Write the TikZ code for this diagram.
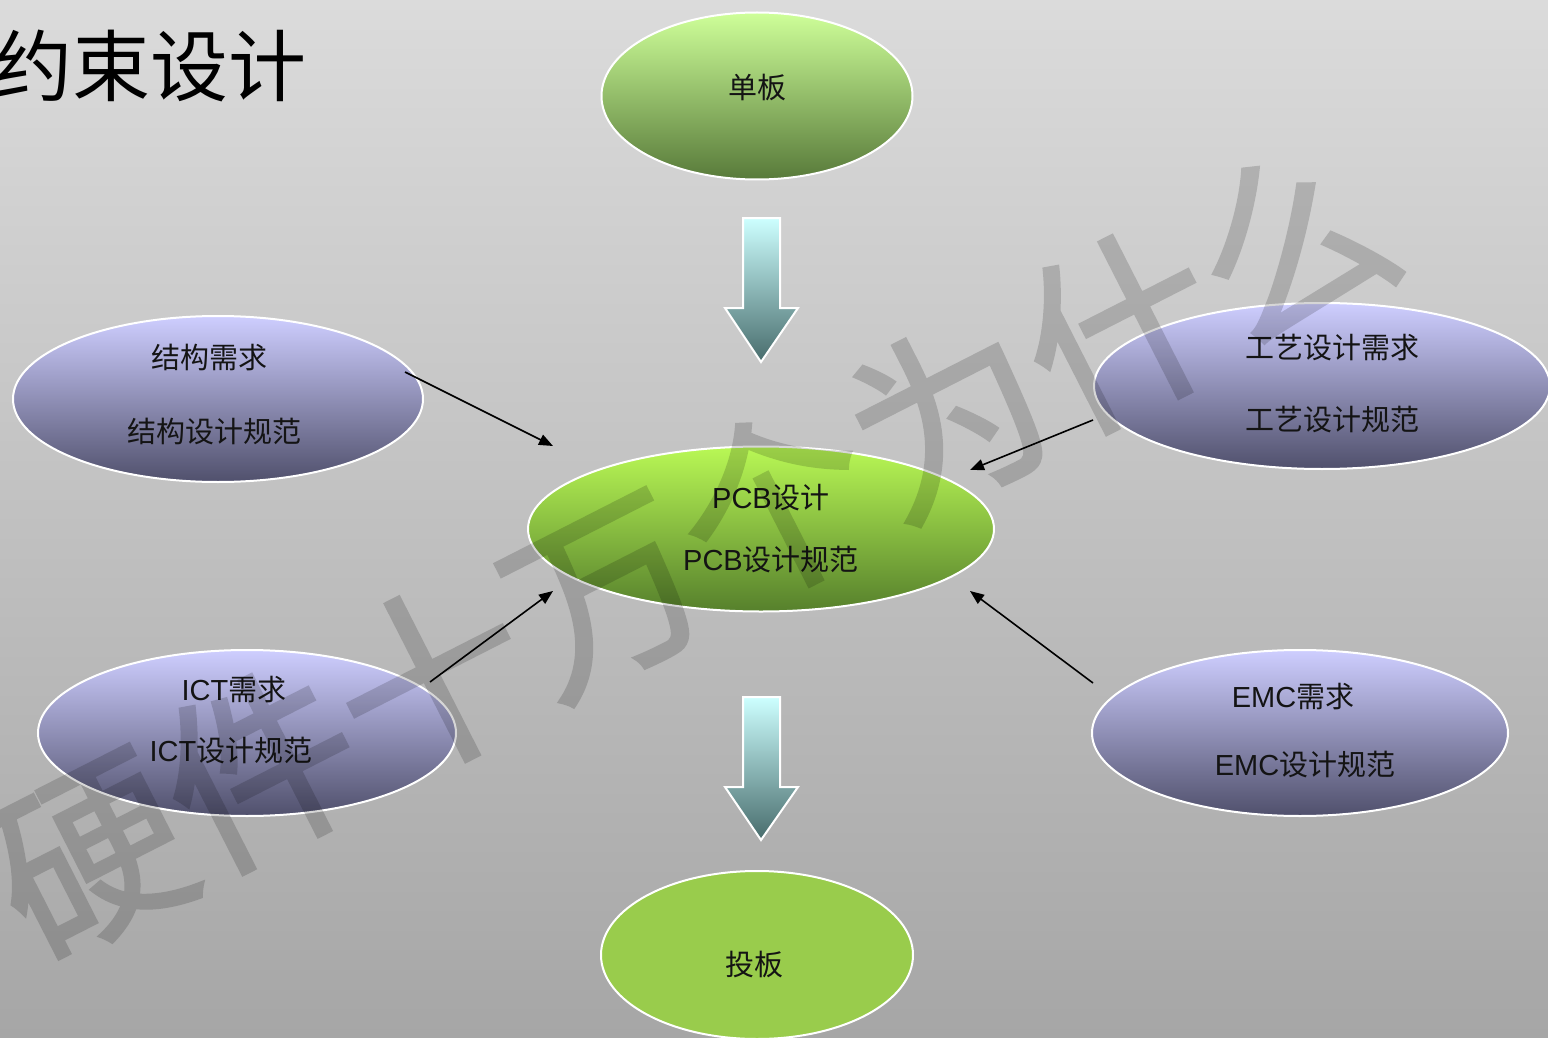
\documentclass[tikz,border=0pt]{standalone}
\usepackage{fontspec}
\setmainfont{Liberation Sans}
\newfontfamily\cjk{Noto Sans CJK SC}
\newfontfamily\markfont{Noto Sans CJK SC}[FakeBold=1.5]
\usetikzlibrary{shapes.geometric,arrows.meta}

\definecolor{bgtop}{RGB}{219,219,219}
\definecolor{bgbot}{RGB}{166,166,166}
\definecolor{boardtop}{RGB}{206,255,153}
\definecolor{boardbot}{RGB}{88,122,58}
\definecolor{pcbtop}{RGB}{185,248,85}
\definecolor{pcbbot}{RGB}{86,128,44}
\definecolor{reqtop}{RGB}{206,206,255}
\definecolor{reqmid}{RGB}{160,160,206}
\definecolor{reqbot}{RGB}{80,80,108}
\definecolor{flowtop}{RGB}{205,255,255}
\definecolor{flowbot}{RGB}{72,108,108}
\definecolor{tapeout}{RGB}{153,204,76}
\definecolor{ink}{RGB}{20,20,20}

\tikzset{
  oval/.style={ellipse, draw=white, line width=2pt, inner sep=0pt},
  board/.style={oval, top color=boardtop, bottom color=boardbot},
  pcb/.style={oval, top color=pcbtop, bottom color=pcbbot},
  req/.style={oval, top color=reqtop, middle color=reqmid, bottom color=reqbot},
  txt/.style={inner sep=0pt, text=ink, font=\fontsize{29}{34}\selectfont},
  flow/.style={top color=flowtop, bottom color=flowbot, draw=white, line width=2pt, line join=miter},
  link/.style={draw=black, line width=1.6pt, -{Triangle[length=14pt,width=11pt]}}
}

\begin{document}
\begin{tikzpicture}[x=1pt,y=-1pt]
  % page and background
  \useasboundingbox (0,0) rectangle (1548,1038);
  \shade[top color=bgtop, bottom color=bgbot] (0,0) rectangle (1548,1038);

  % title
  \node[anchor=base west, inner sep=0pt, text=black,
        font=\cjk\fontsize{78}{78}\selectfont] (title) at (-6,96) {约束设计};

  % ellipses
  \node[board, minimum width=311pt, minimum height=167pt] (board) at (757,96) {};
  \node[req, minimum width=410pt, minimum height=166pt] (mech) at (218,399) {};
  \node[req, minimum width=456pt, minimum height=166pt] (proc) at (1322,386) {};
  \node[pcb, minimum width=466pt, minimum height=165pt] (pcbd) at (761,529) {};
  \node[req, minimum width=418pt, minimum height=166pt] (ict) at (247,733) {};
  \node[req, minimum width=416pt, minimum height=166pt] (emc) at (1300,733) {};
  \node[oval, fill=tapeout, minimum width=312pt, minimum height=168pt] (fab) at (757,955) {};

  % labels
  \node[txt] (boardl) at (757,88) {\cjk 单板};
  \node[txt] (mech1) at (209,357) {\cjk 结构需求};
  \node[txt] (mech2) at (214,432) {\cjk 结构设计规范};
  \node[txt] (proc1) at (1332,348) {\cjk 工艺设计需求};
  \node[txt] (proc2) at (1332,420) {\cjk 工艺设计规范};
  \node[txt] (pcb1) at (771,498) {PCB{\cjk 设计}};
  \node[txt] (pcb2) at (771,560) {PCB{\cjk 设计规范}};
  \node[txt] (ict1) at (234,690) {ICT{\cjk 需求}};
  \node[txt] (ict2) at (231,751) {ICT{\cjk 设计规范}};
  \node[txt] (emc1) at (1293,697) {EMC{\cjk 需求}};
  \node[txt] (emc2) at (1305,765) {EMC{\cjk 设计规范}};
  \node[txt] (fabl) at (754,965) {\cjk 投板};

  % block arrows of the main flow
  \path[flow] (743,218) -- (780,218) -- (780,308) -- (798,308) -- (761,362)
              -- (725,308) -- (743,308) -- cycle;
  \path[flow] (743,697) -- (780,697) -- (780,787) -- (798,787) -- (761,840)
              -- (725,787) -- (743,787) -- cycle;

  % inputs into the PCB design
  \coordinate (mech-tail) at (405,372);
  \coordinate (pcb-nw) at (553,446);
  \coordinate (proc-tail) at (1093,420);
  \coordinate (pcb-ne) at (970,470);
  \coordinate (ict-tail) at (430,682);
  \coordinate (pcb-sw) at (553,591);
  \coordinate (emc-tail) at (1093,683);
  \coordinate (pcb-se) at (970,591);
  \draw[link] (mech-tail) -- (pcb-nw);
  \draw[link] (proc-tail) -- (pcb-ne);
  \draw[link] (ict-tail) -- (pcb-sw);
  \draw[link] (emc-tail) -- (pcb-se);

  % watermark, flattened before it is made translucent
  \begin{scope}[transparency group, opacity=0.16]
    \node[rotate=27, inner sep=0pt, text=black,
          font=\markfont\fontsize{193}{193}\selectfont] (mark) at (690,548) {硬件十万个为什么};
  \end{scope}
\end{tikzpicture}
\end{document}
